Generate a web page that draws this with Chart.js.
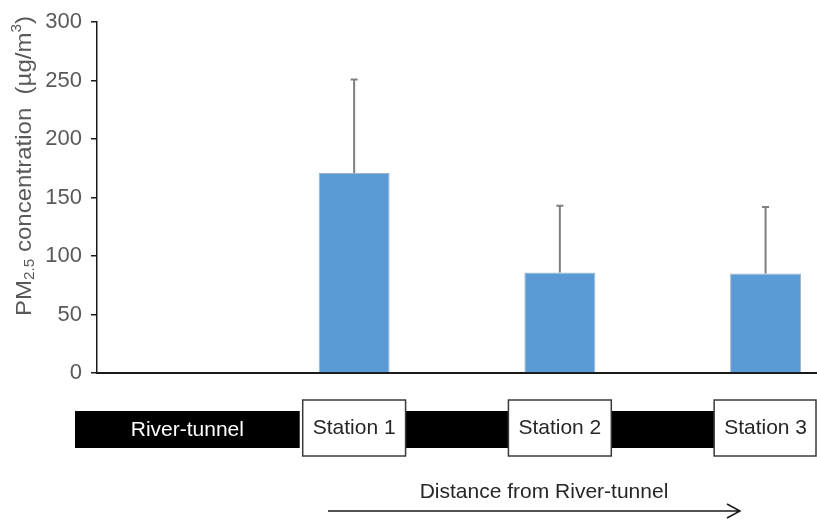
<!DOCTYPE html>
<html>
<head>
<meta charset="utf-8">
<script src="https://cdn.jsdelivr.net/npm/chart.js@4/dist/chart.umd.min.js"></script>
<style>
  html, body { margin: 0; padding: 0; background: #ffffff; }
  #wrap { width: 817px; height: 521px; position: relative; }
</style>
</head>
<body>
<div id="wrap"><canvas id="c" width="817" height="521"></canvas></div>
<script>
// Category slots along the route; empty slots keep the spacing between stations.
const slots = ['', '', 'Station 1', '', 'Station 2', '', 'Station 3'];
const stations = ['Station 1', 'Station 2', 'Station 3'];
// Mean PM2.5 and standard deviation at each station (µg/m³)
const meanPM25 = [171, 86, 85];
const sdPM25 = [80, 57, 57];
const yTicks = [0, 50, 100, 150, 200, 250, 300];
const routeStart = 'River-tunnel';
const distanceCaption = 'Distance from River-tunnel';

const FONT = "'Liberation Sans', Arial, Helvetica, sans-serif";
const barValues = slots.map(s => {
  const i = stations.indexOf(s);
  return i >= 0 ? meanPM25[i] : null;
});

const decorations = {
  id: 'decorations',
  afterDatasetsDraw(chart) {
    const ctx = chart.ctx;
    const ys = chart.scales.y;
    const meta = chart.getDatasetMeta(0);

    // upper error bars (mean + SD)
    ctx.save();
    ctx.strokeStyle = '#7f7f7f';
    ctx.lineWidth = 2;
    stations.forEach((s, i) => {
      const bar = meta.data[slots.indexOf(s)];
      const x = bar.x;
      const y0 = ys.getPixelForValue(meanPM25[i]);
      const y1 = ys.getPixelForValue(meanPM25[i] + sdPM25[i]);
      ctx.beginPath();
      ctx.moveTo(x, y0);
      ctx.lineTo(x, y1);
      ctx.moveTo(x - 3.5, y1);
      ctx.lineTo(x + 3.5, y1);
      ctx.stroke();
    });
    ctx.restore();
  },
  afterDraw(chart) {
    const ctx = chart.ctx;
    const xs = chart.scales.x;
    const catW = (xs.right - xs.left) / slots.length;

    // y-axis title with subscript and superscript
    ctx.save();
    const parts = [
      { t: 'PM', size: 22, dy: 0 },
      { t: '2.5', size: 14, dy: 5 },
      { t: ' concentration  (\u00b5g/m', size: 22, dy: 0 },
      { t: '3', size: 14, dy: -8 },
      { t: ')', size: 22, dy: 0 }
    ];
    let total = 0;
    parts.forEach(p => { ctx.font = p.size + 'px ' + FONT; p.w = ctx.measureText(p.t).width; total += p.w; });
    const stretch = 300 / total;
    ctx.translate(25, 166);
    ctx.rotate(-Math.PI / 2);
    ctx.scale(stretch, 1);
    ctx.fillStyle = '#595959';
    ctx.textBaseline = 'middle';
    ctx.textAlign = 'left';
    let px = -total / 2;
    parts.forEach(p => {
      ctx.font = p.size + 'px ' + FONT;
      ctx.fillText(p.t, px, p.dy);
      px += p.w;
    });
    ctx.restore();

    // route diagram: tunnel and track segments (black) and station boxes (white)
    ctx.save();
    const trackTop = 411, trackH = 37;
    const boxTop = 400, boxH = 56;
    const boxes = stations.map(s => {
      const cx = xs.getPixelForValue(slots.indexOf(s));
      return { s, l: cx - catW / 2, r: cx + catW / 2, cx };
    });
    const tunnelLeft = 75, tunnelRight = boxes[0].l - 3;
    ctx.fillStyle = '#000000';
    ctx.fillRect(tunnelLeft, trackTop, tunnelRight - tunnelLeft, trackH);
    for (let i = 0; i < boxes.length - 1; i++) {
      ctx.fillRect(boxes[i].r, trackTop, boxes[i + 1].l - boxes[i].r, trackH);
    }
    ctx.font = '21px ' + FONT;
    ctx.textAlign = 'center';
    ctx.textBaseline = 'middle';
    ctx.fillStyle = '#ffffff';
    ctx.fillText(routeStart, (tunnelLeft + tunnelRight) / 2, trackTop + trackH / 2 + 1);
    boxes.forEach(b => {
      ctx.fillStyle = '#ffffff';
      ctx.fillRect(b.l, boxTop, b.r - b.l, boxH);
      ctx.strokeStyle = '#3a3a3a';
      ctx.lineWidth = 1.5;
      ctx.strokeRect(b.l, boxTop, Math.min(b.r, 816) - b.l, boxH);
      ctx.fillStyle = '#262626';
      ctx.fillText(b.s, b.cx, boxTop + boxH / 2);
    });

    // distance arrow
    ctx.fillStyle = '#262626';
    ctx.fillText(distanceCaption, 544, 492);
    ctx.strokeStyle = '#1a1a1a';
    ctx.lineWidth = 1.5;
    ctx.beginPath();
    ctx.moveTo(328, 511);
    ctx.lineTo(740, 511);
    ctx.moveTo(727, 504);
    ctx.lineTo(740, 511);
    ctx.lineTo(727, 518);
    ctx.stroke();
    ctx.restore();
  }
};

new Chart(document.getElementById('c'), {
  type: 'bar',
  data: {
    labels: slots,
    datasets: [{
      data: barValues,
      backgroundColor: '#5b9bd5',
      borderColor: '#9fb3c8',
      borderWidth: 1,
      barPercentage: 0.69,
      categoryPercentage: 1.0
    }]
  },
  options: {
    responsive: false,
    animation: false,
    devicePixelRatio: 1,
    layout: { padding: { top: 19, right: 0, bottom: 0, left: 0 } },
    plugins: { legend: { display: false }, tooltip: { enabled: false } },
    scales: {
      x: {
        grid: { display: false },
        border: { display: true, color: '#1a1a1a', width: 2 },
        ticks: { display: false },
        afterFit(scale) { scale.height = 148; }
      },
      y: {
        min: 0,
        max: 300,
        afterBuildTicks(scale) { scale.ticks = yTicks.map(v => ({ value: v })); },
        grid: { display: true, drawOnChartArea: false, drawTicks: true, tickLength: 6, color: '#1a1a1a', lineWidth: 1.5 },
        border: { display: true, color: '#1a1a1a', width: 1.5 },
        ticks: { color: '#595959', font: { family: FONT, size: 22 }, padding: 9 },
        afterFit(scale) { scale.width = 97; }
      }
    }
  },
  plugins: [decorations]
});
</script>
</body>
</html>
